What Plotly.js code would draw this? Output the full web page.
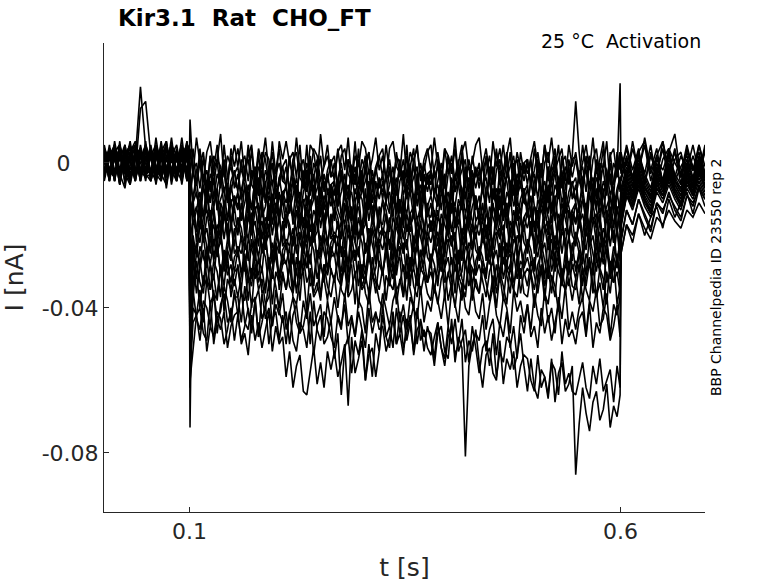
<!DOCTYPE html>
<html>
<head>
<meta charset="utf-8">
<script src="https://cdn.plot.ly/plotly-3.0.1.min.js"></script>
<style>
  body { margin: 0; background: #fff; }
  #chart { width: 778px; height: 583px; }
</style>
</head>
<body>
<div id="chart"></div>
<script>
// sample times [s] : before the step, during the step (0.1 - 0.6 s), after the step
const tPre = [0.001, 0.007, 0.013, 0.019, 0.025, 0.031, 0.037, 0.043, 0.049,
              0.055, 0.061, 0.067, 0.073, 0.079, 0.085, 0.091, 0.097, 0.0995];
const tStep = [0.1005, 0.104, 0.108, 0.112, 0.116, 0.120, 0.124, 0.128, 0.132, 0.136, 0.140, 0.144, 0.148, 0.152,
               0.156, 0.160, 0.164, 0.168, 0.172, 0.176, 0.180, 0.184, 0.188, 0.192, 0.196, 0.200, 0.204, 0.208,
               0.212, 0.216, 0.220, 0.224, 0.228, 0.232, 0.236, 0.240, 0.244, 0.248, 0.252, 0.256, 0.260, 0.264,
               0.268, 0.272, 0.276, 0.280, 0.284, 0.288, 0.292, 0.296, 0.300, 0.304, 0.308, 0.312, 0.316, 0.320,
               0.324, 0.328, 0.332, 0.336, 0.340, 0.344, 0.348, 0.352, 0.356, 0.360, 0.364, 0.368, 0.372, 0.376,
               0.380, 0.384, 0.388, 0.392, 0.396, 0.400, 0.404, 0.408, 0.412, 0.416, 0.420, 0.424, 0.428, 0.432,
               0.436, 0.440, 0.444, 0.448, 0.452, 0.456, 0.460, 0.464, 0.468, 0.472, 0.476, 0.480, 0.484, 0.488,
               0.492, 0.496, 0.500, 0.504, 0.508, 0.512, 0.516, 0.520, 0.524, 0.528, 0.532, 0.536, 0.540, 0.544,
               0.548, 0.552, 0.556, 0.560, 0.564, 0.568, 0.572, 0.576, 0.580, 0.584, 0.588, 0.592, 0.596, 0.5995];
const tPost = [0.6005, 0.607, 0.614, 0.621, 0.628, 0.635, 0.642, 0.649,
               0.656, 0.663, 0.670, 0.677, 0.684, 0.691, 0.698];

// current of each sweep in pA: [before, during, after]
const sweep01 = [
  [3,-5,6,-2,4,-6,1,21,4, -4,7,-3,5,-6,2,-1,6,-2],
  [4,-3,7,0,-5,3,6,-2,1,8,-4,2,-1,5,
   -1,6,-4,2,5,-5,4,0,7,-3,3,-6,6,1,
   6,0,-3,7,-2,1,-5,5,3,-4,8,-1,2,-3,
   -4,3,5,-2,7,-5,2,-1,6,4,-3,1,7,-2,
   2,-5,4,6,-1,-3,8,-4,3,0,5,-5,1,4,
   -2,7,-1,-4,4,2,-3,7,-5,3,6,-2,0,5,
   7,-2,1,-5,6,-1,4,-3,2,7,-4,3,-2,0,
   -3,2,6,-1,-4,5,0,7,-2,1,4,-5,5,-1,
   3,-4,0,5,-2,7,-3,1,6,-5,2,4,-4,3],
  [2,-5,6,-3,7,-2,4,-6,3,8,-4,1,-5,5,-1]
];
const sweep02 = [
  [-2,4,-5,6,-6,3,-3,15,17, 2,-5,5,-7,3,-3,7,-4,3],
  [-3,4,-6,0,3,-7,2,-2,5,-5,1,-8,4,-1,
   4,-2,-5,5,-4,-1,-7,3,1,-6,6,-3,0,-5,
   -6,1,3,-4,5,-7,0,-3,4,2,-5,-1,5,-4,
   0,-7,2,4,-3,-5,6,-6,1,-2,3,-7,-1,2,
   -4,5,-3,-6,2,0,-5,5,-7,1,4,-4,-2,3,
   5,-4,-1,-7,4,-3,2,-5,0,5,-6,1,-4,-2,
   -5,0,4,-3,-6,3,-2,5,-4,-1,2,-7,3,-3,
   1,-6,-2,3,-4,5,-5,-1,4,-7,0,2,-6,1,
   2,-5,5,-2,-7,1,4,-4,-1,6,-6,0,-3,3],
  [-3,5,-2,4,-6,3,-4,6,-2,3,-6,4,-1,-3,5]
];
const sweep03 = [
  [4,-3,2,-6,5,-2,3,-5,6, -5,2,4,-3,7,-4,1,3,-2],
  [12,-3,-6,4,-5,-2,-8,2,0,-7,5,-4,-1,-6,
   -7,0,2,-5,4,-8,-1,-4,3,1,-6,-2,4,-5,
   -1,-8,1,3,-4,-6,5,-7,0,-3,2,-8,-2,1,
   -5,4,-4,-7,1,-1,-6,4,-8,0,3,-5,-3,2,
   4,-5,-2,-8,3,-4,1,-6,-1,4,-7,0,-5,-3,
   -6,-1,3,-4,-7,2,-3,4,-5,-2,1,-8,2,-4,
   0,-7,-3,2,-5,4,-6,-2,3,-8,-1,1,-7,0,
   1,-6,4,-3,-8,0,3,-5,-2,5,-7,-1,-4,2,
   17,3,-7,-1,2,-8,1,-3,4,-6,0,-9,3,-2],
  [3,-4,4,-2,5,-5,2,6,-3,4,-4,3,-2,5,-3]
];
const sweep04 = [
  [-4,3,-5,4,-1,6,-3,2,-5, 4,-2,3,-6,5,2,-4,4,-1],
  [-9,-2,0,-7,2,-10,-3,-6,1,-1,-8,-4,2,-7,
   -3,-10,-1,1,-6,-8,3,-9,-2,-5,0,-10,-4,-1,
   -7,2,-6,-9,-1,-3,-8,2,-10,-2,1,-7,-5,0,
   2,-7,-4,-10,1,-6,-1,-8,-3,2,-9,-2,-7,-5,
   -8,-3,1,-6,-9,0,-5,2,-7,-4,-1,-10,0,-6,
   -2,-9,-5,0,-7,2,-8,-4,1,-10,-3,-1,-9,-2,
   -1,-8,2,-5,-10,-2,1,-7,-4,3,-9,-3,-6,0,
   -6,1,-9,-3,0,-10,-1,-5,2,-8,-2,-11,1,-4,
   1,-5,-8,2,-7,-4,-10,0,-2,-9,3,-6,-3,22],
  [-2,4,-4,3,6,-3,2,-5,4,0,-3,5,-2,3,-4]
];
const sweep05 = [
  [2,-5,4,-3,-7,3,5,-2,1, 3,-6,2,5,-4,3,-3,6,-4],
  [-4,-11,-2,0,-7,-9,2,-10,-3,-6,-1,-11,-5,-2,
   -8,1,-7,-10,-2,-4,-9,1,-11,-3,0,-8,-6,-1,
   1,-8,-5,-11,0,-7,-2,-9,-4,1,-10,-3,-8,-6,
   -9,-4,0,-7,-10,-1,-6,1,-8,-5,-2,-11,-1,-7,
   -3,-10,-6,-1,-8,1,-9,-5,0,-11,-4,-2,-10,-3,
   -2,-9,1,-6,-11,-3,0,-8,-5,2,-10,-4,-7,-1,
   -7,0,-10,-4,-1,-11,-2,-6,1,-9,-3,-12,0,-5,
   0,-6,-9,1,-8,-5,-11,-1,-3,-10,2,-7,-4,-9,
   -10,-3,-1,-8,1,-11,-4,-7,0,-2,-9,-5,1,-8],
  [-4,2,-5,3,-3,5,-6,1,4,-4,2,-2,5,-3,3]
];
const sweep06 = [
  [-3,5,-4,2,4,-5,1,3,-3, -5,4,-2,6,-3,1,5,-5,2],
  [-10,-1,-9,-12,-4,-6,-11,-1,-13,-5,-2,-10,-8,-3,
   -1,-10,-7,-13,-2,-9,-4,-11,-6,-1,-12,-5,-10,-8,
   -11,-6,-2,-9,-12,-3,-8,-1,-10,-7,-4,-13,-3,-9,
   -5,-12,-8,-3,-10,-1,-11,-7,-2,-13,-6,-4,-12,-5,
   -4,-11,-1,-8,-13,-5,-2,-10,-7,0,-12,-6,-9,-3,
   -9,-2,-12,-6,-3,-13,-4,-8,-1,-11,-5,-14,-2,-7,
   -2,-8,-11,-1,-10,-7,-13,-3,-5,-12,0,-9,-6,-11,
   -12,-5,-3,-10,-1,-13,-6,-9,-2,-4,-11,-7,-1,-10,
   -6,-13,-4,-2,-9,-11,0,-12,-5,-8,-3,-13,-7,-4],
  [-5,1,-4,3,-6,2,-3,4,-5,1,3,-4,2,-3,4]
];
const sweep07 = [
  [5,-2,3,-6,2,4,-4,0,5, 1,-4,6,-3,2,-5,3,-2,4],
  [-2,-11,-8,-14,-3,-10,-5,-12,-7,-2,-13,-6,-11,-9,
   -12,-7,-3,-10,-13,-4,-9,-2,-11,-8,-5,-14,-4,-10,
   -6,-13,-9,-4,-11,-2,-12,-8,-3,-14,-7,-5,-13,-6,
   -5,-12,-2,-9,-14,-6,-3,-11,-8,-1,-13,-7,-10,-4,
   -10,-3,-13,-7,-4,-14,-5,-9,-2,-12,-6,-15,-3,-8,
   -3,-9,-12,-2,-11,-8,-14,-4,-6,-13,-1,-10,-7,-12,
   -13,-6,-4,-11,-2,-14,-7,-10,-3,-5,-12,-8,-2,-11,
   -7,-14,-5,-3,-10,-12,-1,-13,-6,-9,-4,-14,-8,-5,
   -11,-2,-10,-13,-5,-7,-12,-2,-14,-6,-3,-11,-9,-4],
  [-4,0,-5,2,-3,-7,1,-2,3,-5,-1,2,-4,1,-3]
];
const sweep08 = [
  [-2,3,-4,5,-3,-6,4,2,-2, 3,-3,1,4,-5,3,-2,2,-4],
  [-73,-9,-5,-12,-15,-6,-11,-4,-13,-10,-7,-16,-6,-12,
   -8,-15,-11,-6,-13,-4,-14,-10,-5,-16,-9,-7,-15,-8,
   -7,-14,-4,-11,-16,-8,-5,-13,-10,-3,-15,-9,-12,-6,
   -12,-5,-15,-9,-6,-16,-7,-11,-4,-14,-8,-17,-5,-10,
   -5,-11,-14,-4,-13,-10,-16,-6,-8,-15,-3,-12,-9,-14,
   -15,-8,-6,-13,-4,-16,-9,-12,-5,-7,-14,-10,-4,-13,
   -9,-16,-7,-5,-12,-14,-3,-15,-8,-11,-6,-16,-10,-7,
   -13,-4,-12,-15,-7,-9,-14,-4,-16,-8,-5,-13,-11,-6,
   -4,-13,-10,-16,-5,-12,-7,-14,-9,-4,-15,-8,-13,-11],
  [-7,-1,-6,1,-4,-8,0,-5,2,-3,-6,0,-2,1,-4]
];
const sweep09 = [
  [3,-4,1,4,-2,5,-5,3,-3, 2,5,-4,1,-2,4,-6,3,1],
  [-10,-17,-13,-8,-15,-6,-16,-12,-7,-18,-11,-9,-17,-10,
   -9,-16,-6,-13,-18,-10,-7,-15,-12,-5,-17,-11,-14,-8,
   -14,-7,-17,-11,-8,-18,-9,-13,-6,-16,-10,-19,-7,-12,
   -7,-13,-16,-6,-15,-12,-18,-8,-10,-17,-5,-14,-11,-16,
   -17,-10,-8,-15,-6,-18,-11,-14,-7,-9,-16,-12,-6,-15,
   -11,-18,-9,-7,-14,-16,-5,-17,-10,-13,-8,-18,-12,-9,
   -15,-6,-14,-17,-9,-11,-16,-6,-18,-10,-7,-15,-13,-8,
   -6,-15,-12,-18,-7,-14,-9,-16,-11,-6,-17,-10,-15,-13,
   -16,-11,-7,-14,-17,-8,-13,-6,-15,-12,-9,-18,-8,-14],
  [-8,-2,-7,0,-5,-9,-1,-6,1,-4,-7,0,-5,2,-3]
];
const sweep10 = [
  [0,4,-3,2,-5,3,6,-4,2, -3,4,-5,2,3,-3,5,-4,-1],
  [-9,-15,-12,-18,-6,-13,-16,-8,-11,-19,-14,-7,-17,-10,
   -13,-8,-20,-11,-17,-7,-14,-10,-19,-9,-12,-18,-8,-15,
   -17,-12,-15,-6,-18,-11,-9,-19,-13,-16,-7,-17,-14,-8,
   -16,-7,-13,-17,-10,-8,-15,-12,-19,-7,-16,-9,-11,-18,
   -10,-13,-19,-9,-14,-11,-18,-6,-17,-15,-8,-10,-19,-12,
   -9,-14,-16,-8,-11,-19,-7,-17,-12,-10,-18,-15,-7,-16,
   -14,-16,-11,-18,-7,-12,-17,-10,-15,-8,-19,-13,-16,-7,
   -15,-9,-19,-10,-13,-16,-7,-14,-9,-18,-15,-8,-12,-17,
   -11,-18,-10,-12,-19,-8,-13,-17,-7,-16,-9,-14,-18,-11],
  [-9,-3,-8,-1,-6,-10,-2,-7,0,-5,-8,-1,-6,1,-4]
];
const sweep11 = [
  [-4,2,5,-3,1,-5,4,-2,3, -2,-5,3,6,-3,1,-4,2,5],
  [-15,-10,-22,-13,-19,-9,-16,-12,-21,-11,-14,-20,-10,-17,
   -19,-14,-17,-8,-20,-13,-11,-21,-15,-18,-9,-19,-16,-10,
   -18,-9,-15,-19,-12,-10,-17,-14,-21,-9,-18,-11,-13,-20,
   -12,-15,-21,-11,-16,-13,-20,-8,-19,-17,-10,-12,-21,-14,
   -11,-16,-18,-10,-13,-21,-9,-19,-14,-12,-20,-17,-9,-18,
   -16,-18,-13,-20,-9,-14,-19,-12,-17,-10,-21,-15,-18,-9,
   -17,-11,-21,-12,-15,-18,-9,-16,-11,-20,-17,-10,-14,-19,
   -13,-20,-12,-14,-21,-10,-15,-19,-9,-18,-11,-16,-20,-13,
   -11,-17,-14,-20,-8,-15,-18,-10,-13,-21,-16,-9,-19,-12],
  [-10,-4,-9,-2,-8,-11,-3,-7,-1,-6,-9,-2,-7,0,-5]
];
const sweep12 = [
  [2,-3,4,-6,3,1,-4,5,-2, 4,-3,-5,2,4,-2,3,-4,1],
  [-21,-16,-19,-10,-22,-15,-13,-23,-17,-20,-11,-21,-18,-12,
   -20,-11,-17,-21,-14,-12,-19,-16,-23,-11,-20,-13,-15,-22,
   -14,-17,-23,-13,-18,-15,-22,-10,-21,-19,-12,-14,-23,-16,
   -13,-18,-20,-12,-15,-23,-11,-21,-16,-14,-22,-19,-11,-20,
   -18,-20,-15,-22,-11,-16,-21,-14,-19,-12,-23,-17,-20,-11,
   -19,-13,-23,-14,-17,-20,-11,-18,-13,-22,-19,-12,-16,-21,
   -15,-22,-14,-16,-23,-12,-17,-21,-11,-20,-13,-18,-22,-15,
   -13,-19,-16,-22,-10,-17,-20,-12,-15,-23,-18,-11,-21,-14,
   -17,-12,-24,-15,-21,-11,-18,-14,-23,-13,-16,-22,-12,-19],
  [-11,-5,-10,-3,-9,-12,-4,-8,-2,-7,-10,-3,-8,-1,-6]
];
const sweep13 = [
  [-3,4,-2,1,5,-4,2,-5,3, 1,4,-3,-6,2,5,-3,1,3],
  [-35,-12,-18,-22,-15,-13,-20,-17,-24,-12,-21,-14,-16,-23,
   -15,-18,-24,-14,-19,-16,-23,-11,-22,-20,-13,-15,-24,-17,
   -14,-19,-21,-13,-16,-24,-12,-22,-17,-15,-23,-20,-12,-21,
   -19,-21,-16,-23,-12,-17,-22,-15,-20,-13,-24,-18,-21,-12,
   -20,-14,-24,-15,-18,-21,-12,-19,-14,-23,-20,-13,-17,-22,
   -16,-23,-15,-17,-24,-13,-18,-22,-12,-21,-14,-19,-23,-16,
   -14,-20,-17,-23,-11,-18,-21,-13,-16,-24,-19,-12,-22,-15,
   -18,-13,-25,-16,-22,-12,-19,-15,-24,-14,-17,-23,-13,-20,
   -22,-17,-20,-11,-23,-16,-14,-24,-18,-21,-12,-22,-19,-13],
  [-13,-6,-11,-4,-10,-13,-5,-9,-3,-8,-11,-4,-9,-2,-7]
];
const sweep14 = [
  [4,1,-4,3,-3,2,5,-2,-4, 2,-2,5,-3,1,-5,4,2,-3],
  [-40,-20,-26,-16,-21,-18,-25,-13,-24,-22,-15,-17,-26,-19,
   -16,-21,-23,-15,-18,-26,-14,-24,-19,-17,-25,-22,-14,-23,
   -21,-23,-18,-25,-14,-19,-24,-17,-22,-15,-26,-20,-23,-14,
   -22,-16,-26,-17,-20,-23,-14,-21,-16,-25,-22,-15,-19,-24,
   -18,-25,-17,-19,-26,-15,-20,-24,-14,-23,-16,-21,-25,-18,
   -16,-22,-19,-25,-13,-20,-23,-15,-18,-26,-21,-14,-24,-17,
   -20,-15,-27,-18,-24,-14,-21,-17,-26,-16,-19,-25,-15,-22,
   -24,-19,-22,-13,-25,-18,-16,-26,-20,-23,-14,-24,-21,-15,
   -23,-14,-20,-24,-17,-15,-22,-19,-26,-14,-23,-16,-18,-25],
  [-14,-7,-12,-5,-10,-14,-6,-9,-4,-8,-12,-5,-9,-3,-7]
];
const sweep15 = [
  [-2,3,-5,4,2,-3,1,4,-4, -3,5,1,-4,3,-2,-5,4,2],
  [-45,-23,-25,-17,-20,-28,-16,-26,-21,-19,-27,-24,-16,-25,
   -23,-25,-20,-27,-16,-21,-26,-19,-24,-17,-28,-22,-25,-16,
   -24,-18,-28,-19,-22,-25,-16,-23,-18,-27,-24,-17,-21,-26,
   -20,-27,-19,-21,-28,-17,-22,-26,-16,-25,-18,-23,-27,-20,
   -18,-24,-21,-27,-15,-22,-25,-17,-20,-28,-23,-16,-26,-19,
   -22,-17,-29,-20,-26,-16,-23,-19,-28,-18,-21,-27,-17,-24,
   -26,-21,-24,-15,-27,-20,-18,-28,-22,-25,-16,-26,-23,-17,
   -25,-16,-22,-26,-19,-17,-24,-21,-28,-16,-25,-18,-20,-27,
   -19,-22,-28,-18,-23,-20,-27,-15,-26,-24,-17,-19,-28,-21],
  [-15,-8,-12,-6,-11,-14,-7,-10,-5,-9,-12,-6,-9,-4,-8]
];
const sweep16 = [
  [3,-5,2,-2,4,-4,3,1,5, -4,2,-3,4,-2,-5,3,1,-3],
  [-52,-27,-22,-29,-18,-23,-28,-21,-26,-19,-30,-24,-27,-18,
   -26,-20,-30,-21,-24,-27,-18,-25,-20,-29,-26,-19,-23,-28,
   -22,-29,-21,-23,-30,-19,-24,-28,-18,-27,-20,-25,-29,-22,
   -20,-26,-23,-29,-17,-24,-27,-19,-22,-30,-25,-18,-28,-21,
   -24,-19,-31,-22,-28,-18,-25,-21,-30,-20,-23,-29,-19,-26,
   -28,-23,-26,-17,-29,-22,-20,-30,-24,-27,-18,-28,-25,-19,
   -27,-18,-24,-28,-21,-19,-26,-23,-30,-18,-27,-20,-22,-29,
   -21,-24,-30,-20,-25,-22,-29,-17,-28,-26,-19,-21,-30,-23,
   -20,-25,-27,-19,-22,-30,-18,-28,-23,-21,-29,-26,-18,-27],
  [-16,-9,-13,-7,-12,-15,-8,-11,-6,-10,-13,-7,-10,-5,-9]
];
const sweep17 = [
  [-5,2,4,-3,1,3,-4,2,-2, 5,-3,2,-4,4,1,-2,3,-5],
  [-48,-22,-32,-23,-26,-29,-20,-27,-22,-31,-28,-21,-25,-30,
   -24,-31,-23,-25,-32,-21,-26,-30,-20,-29,-22,-27,-31,-24,
   -22,-28,-25,-31,-19,-26,-29,-21,-24,-32,-27,-20,-30,-23,
   -26,-21,-33,-24,-30,-20,-27,-23,-32,-22,-25,-31,-21,-28,
   -30,-25,-28,-19,-31,-24,-22,-32,-26,-29,-20,-30,-27,-21,
   -29,-20,-26,-30,-23,-21,-28,-25,-32,-20,-29,-22,-24,-31,
   -23,-26,-32,-22,-27,-24,-31,-19,-30,-28,-21,-23,-32,-25,
   -22,-27,-29,-21,-24,-32,-20,-30,-25,-23,-31,-28,-20,-29,
   -27,-29,-24,-31,-20,-25,-30,-23,-28,-21,-32,-26,-29,-20],
  [-13,-5,-8,-3,-7,-9,-4,-6,-2,-5,-7,-3,-5,-1,-4]
];
const sweep18 = [
  [1,-4,3,5,-2,-5,2,4,-3, -2,3,-4,1,5,-3,2,-4,3],
  [-55,-33,-25,-27,-34,-23,-28,-32,-22,-31,-24,-29,-33,-26,
   -24,-30,-27,-33,-21,-28,-31,-23,-26,-34,-29,-22,-32,-25,
   -28,-23,-35,-26,-32,-22,-29,-25,-34,-24,-27,-33,-23,-30,
   -32,-27,-30,-21,-33,-26,-24,-34,-28,-31,-22,-32,-29,-23,
   -31,-22,-28,-32,-25,-23,-30,-27,-34,-22,-31,-24,-26,-33,
   -25,-28,-34,-24,-29,-26,-33,-21,-32,-30,-23,-25,-34,-27,
   -24,-29,-31,-23,-26,-34,-22,-32,-27,-25,-33,-30,-22,-31,
   -29,-31,-26,-33,-22,-27,-32,-25,-30,-23,-34,-28,-31,-22,
   -30,-24,-34,-25,-28,-31,-22,-29,-24,-33,-30,-23,-27,-32],
  [-21,-13,-17,-10,-14,-18,-11,-13,-9,-12,-15,-9,-11,-7,-10]
];
const sweep19 = [
  [2,-3,5,-4,3,1,-5,3,-2, 4,-4,2,-2,5,-3,3,-5,1],
  [-50,-26,-36,-29,-24,-32,-35,-27,-30,-37,-25,-31,-28,-34,
   -28,-35,-25,-31,-34,-24,-33,-29,-36,-26,-32,-23,-35,-30,
   -35,-29,-26,-36,-27,-30,-24,-34,-32,-25,-37,-28,-31,-26,
   -25,-32,-34,-27,-36,-24,-31,-28,-35,-33,-26,-30,-36,-27,
   -31,-24,-33,-35,-28,-26,-37,-25,-32,-29,-34,-24,-30,-33,
   -27,-36,-28,-25,-33,-31,-26,-36,-24,-32,-35,-27,-29,-34,
   -36,-27,-30,-24,-35,-28,-33,-26,-31,-36,-25,-32,-27,-29,
   -26,-31,-35,-28,-25,-34,-29,-36,-27,-30,-33,-24,-34,-28,
   -32,-25,-29,-34,-27,-36,-26,-30,-35,-24,-31,-33,-25,-32],
  [-25,-17,-20,-14,-18,-21,-15,-17,-13,-16,-18,-13,-15,-11,-14]
];
const sweep20 = [
  [-3,4,1,-4,2,5,-2,-3,4, -5,1,3,-2,4,-4,2,5,-3],
  [-58,-37,-27,-33,-36,-26,-35,-31,-38,-28,-34,-25,-37,-32,
   -37,-31,-28,-38,-29,-32,-26,-36,-34,-27,-39,-30,-33,-28,
   -27,-34,-36,-29,-38,-26,-33,-30,-37,-35,-28,-32,-38,-29,
   -33,-26,-35,-37,-30,-28,-39,-27,-34,-31,-36,-26,-32,-35,
   -29,-38,-30,-27,-35,-33,-28,-38,-26,-34,-37,-29,-31,-36,
   -38,-29,-32,-26,-37,-30,-35,-28,-33,-38,-27,-34,-29,-31,
   -28,-33,-37,-30,-27,-36,-31,-38,-29,-32,-35,-26,-36,-30,
   -34,-27,-31,-36,-29,-38,-28,-32,-37,-26,-33,-35,-27,-34,
   -35,-28,-38,-31,-26,-34,-37,-29,-32,-39,-27,-33,-30,-36],
  [-15,-7,-10,-4,-8,-11,-5,-7,-2,-6,-9,-3,-6,-1,-4]
];
const sweep21 = [
  [4,-2,-4,3,-3,2,4,-5,1, 3,-2,-4,5,-3,2,-2,4,-4],
  [-62,-33,-30,-40,-31,-34,-28,-38,-36,-29,-41,-32,-35,-30,
   -29,-36,-38,-31,-40,-28,-35,-32,-39,-37,-30,-34,-40,-31,
   -35,-28,-37,-39,-32,-30,-41,-29,-36,-33,-38,-28,-34,-37,
   -31,-40,-32,-29,-37,-35,-30,-40,-28,-36,-39,-31,-33,-38,
   -40,-31,-34,-28,-39,-32,-37,-30,-35,-40,-29,-36,-31,-33,
   -30,-35,-39,-32,-29,-38,-33,-40,-31,-34,-37,-28,-38,-32,
   -36,-29,-33,-38,-31,-40,-30,-34,-39,-28,-35,-37,-29,-36,
   -37,-30,-40,-33,-28,-36,-39,-31,-34,-41,-29,-35,-32,-38,
   -32,-39,-29,-35,-38,-28,-37,-33,-40,-30,-36,-27,-39,-34],
  [-17,-9,-12,-6,-10,-13,-7,-9,-4,-8,-11,-5,-8,-3,-6]
];
const sweep22 = [
  [0,-4,3,5,-2,-5,2,4,-3, -2,3,-4,1,5,-3,2,-4,3],
  [-55,-40,-42,-35,-44,-32,-39,-36,-43,-41,-34,-38,-44,-35,
   -42,-35,-44,-46,-39,-37,-48,-36,-43,-40,-45,-35,-41,-44,
   -41,-50,-42,-39,-47,-45,-40,-50,-38,-46,-49,-41,-43,-48,
   -51,-42,-45,-39,-50,-43,-48,-41,-46,-51,-40,-47,-42,-44,
   -36,-41,-45,-38,-35,-44,-39,-46,-37,-40,-43,-34,-44,-38,
   -41,-34,-38,-43,-36,-45,-35,-39,-44,-33,-40,-42,-34,-41,
   -43,-36,-46,-39,-34,-42,-45,-37,-40,-47,-35,-41,-38,-44,
   -39,-46,-36,-42,-45,-35,-44,-40,-47,-37,-43,-34,-46,-41,
   -46,-40,-37,-47,-38,-41,-35,-45,-43,-36,-48,-39,-42,-37],
  [-18,-9,-12,-5,-10,-13,-6,-9,-3,-7,-10,-4,-7,-2,-5]
];
const sweep23 = [
  [2,-3,5,-4,3,0,-5,3,-2, 4,-4,2,-2,5,-3,3,-5,1],
  [-60,-51,-42,-40,-47,-49,-38,-50,-43,-46,-41,-51,-45,-42,
   -41,-50,-47,-53,-42,-49,-44,-51,-46,-41,-52,-45,-50,-48,
   -59,-52,-62,-56,-53,-63,-64,-58,-51,-61,-55,-62,-52,-57,
   -52,-59,-55,-50,-67,-48,-58,-54,-49,-60,-53,-51,-59,-52,
   -42,-48,-51,-41,-50,-47,-53,-43,-45,-52,-40,-49,-46,-51,
   -53,-48,-44,-51,-54,-45,-50,-43,-52,-49,-46,-55,-45,-51,
   -58,-51,-49,-56,-47,-59,-52,-55,-48,-50,-57,-53,-47,-56,
   -63,-54,-62,-65,-57,-59,-64,-54,-66,-58,-55,-63,-61,-56,
   -86,-72,-62,-69,-74,-66,-63,-71,-68,-61,-73,-67,-70,-64],
  [-25,-17,-22,-14,-20,-15,-12,-18,-10,-15,-11,-8,-14,-7,-12]
];
const sweep24 = [
  [-3,4,1,-4,2,5,-2,-3,4, -5,1,3,-2,4,-4,2,5,-3],
  [-50,-35,-43,-46,-38,-40,-45,-35,-47,-39,-36,-44,-42,-37,
   -37,-44,-34,-41,-46,-38,-35,-43,-40,-33,-45,-39,-42,-36,
   -46,-41,-37,-44,-47,-38,-43,-36,-45,-42,-39,-48,-38,-44,
   -37,-43,-46,-36,-45,-42,-48,-38,-40,-47,-35,-44,-41,-46,
   -45,-52,-48,-43,-50,-41,-51,-47,-42,-53,-46,-44,-52,-45,
   -49,-56,-47,-45,-52,-54,-43,-55,-48,-51,-81,-56,-50,-47,
   -49,-42,-52,-46,-43,-53,-44,-48,-41,-51,-45,-54,-42,-47,
   -39,-48,-45,-51,-40,-47,-42,-49,-44,-39,-50,-43,-48,-46,
   -50,-43,-41,-48,-39,-51,-44,-47,-40,-42,-49,-45,-39,-48],
  [-13,-5,-9,-2,-7,-10,-3,-6,-1,-5,-8,-2,-6,0,-4]
];
const sweep25 = [
  [3,-2,-4,2,-3,1,4,-4,0, 3,-1,-4,4,-2,2,-1,3,-4],
  [-58,-44,-42,-49,-40,-52,-45,-48,-41,-43,-50,-46,-40,-49,
   -42,-49,-45,-40,-47,-38,-48,-44,-39,-50,-43,-41,-49,-42,
   -50,-41,-49,-52,-44,-46,-51,-41,-53,-45,-42,-50,-48,-43,
   -54,-47,-64,-51,-48,-58,-49,-53,-46,-60,-50,-59,-47,-52,
   -39,-48,-45,-51,-40,-47,-42,-49,-44,-39,-50,-43,-48,-46,
   -47,-54,-44,-51,-56,-48,-45,-53,-50,-43,-55,-49,-52,-46,
   -55,-62,-53,-51,-58,-60,-49,-61,-54,-57,-52,-62,-56,-53,
   -54,-60,-63,-53,-62,-59,-65,-55,-57,-64,-52,-61,-58,-63,
   -64,-59,-55,-62,-65,-56,-61,-54,-63,-60,-57,-66,-56,-62],
  [-22,-13,-17,-10,-15,-19,-11,-14,-8,-13,-16,-9,-12,-6,-10]
];

const sweeps = [sweep01, sweep02, sweep03, sweep04, sweep05, sweep06, sweep07,
                sweep08, sweep09, sweep10, sweep11, sweep12, sweep13, sweep14,
                sweep15, sweep16, sweep17, sweep18, sweep19, sweep20, sweep21,
                sweep22, sweep23, sweep24, sweep25];

// axis ticks
const xTickVals = [0.1, 0.6];
const xTickText = ["0.1", "0.6"];
const yTickVals = [0, -0.04, -0.08];
const yTickText = ["0\u00a0\u00a0\u00a0\u00a0", "-0.04", "-0.08"];

// join the three parts of a sweep into one line (pA -> nA)
function buildTrace(sweep) {
    let x = [], y = [];
    [tPre, tStep, tPost].forEach(function (t, i) {
        let vals = sweep[i];
        let n = Math.min(t.length, vals.length);
        for (let k = 0; k < n; k++) {
            x.push(t[k]);
            y.push(vals[k] / 1000);
        }
    });
    return {
        type: "scatter",
        mode: "lines",
        x: x,
        y: y,
        line: { color: "black", width: 1.6 },
        hoverinfo: "skip",
        showlegend: false
    };
}

let data = sweeps.map(buildTrace);

let axisColor = "#262626";

let layout = {
    width: 778,
    height: 583,
    margin: { l: 104, r: 73, t: 43, b: 71 },
    paper_bgcolor: "white",
    plot_bgcolor: "white",
    font: { family: "DejaVu Sans", color: axisColor },
    showlegend: false,
    title: {
        text: "<b>Kir3.1\u00a0\u00a0Rat\u00a0\u00a0CHO_FT</b>",
        font: { family: "DejaVu Sans", size: 23, color: "black" },
        xref: "container",
        x: 118 / 778,
        xanchor: "left",
        yref: "container",
        y: 1 - 18 / 583,
        yanchor: "middle"
    },
    xaxis: {
        range: [0.0007, 0.698],
        tickvals: xTickVals,
        ticktext: xTickText,
        ticks: "inside",
        ticklen: 5,
        tickcolor: axisColor,
        showline: true,
        linecolor: axisColor,
        linewidth: 1,
        showgrid: false,
        zeroline: false,
        tickfont: { size: 22, color: axisColor },
        title: { text: "t [s]", font: { size: 25, color: axisColor }, standoff: 15 }
    },
    yaxis: {
        range: [-0.0963, 0.0331],
        tickvals: yTickVals,
        ticktext: yTickText,
        ticks: "inside",
        ticklen: 5,
        tickcolor: axisColor,
        showline: true,
        linecolor: axisColor,
        linewidth: 1,
        showgrid: false,
        zeroline: false,
        tickfont: { size: 22, color: axisColor },
        title: { text: "I [nA]", font: { size: 25, color: axisColor }, standoff: 10 }
    },
    annotations: [
        {
            text: "25 \u00b0C\u00a0\u00a0Activation",
            xref: "paper", yref: "paper",
            x: 0.9967, y: 1.0043,
            xanchor: "right", yanchor: "middle",
            showarrow: false,
            font: { size: 19, color: "black" }
        },
        {
            text: "BBP Channelpedia ID 23550 rep 2",
            xref: "paper", yref: "paper",
            x: 1.0183, y: 0.501,
            xanchor: "center", yanchor: "middle",
            textangle: -90,
            showarrow: false,
            font: { size: 14, color: "black" }
        }
    ]
};

Plotly.newPlot("chart", data, layout, { displayModeBar: false, staticPlot: true });
</script>
</body>
</html>
